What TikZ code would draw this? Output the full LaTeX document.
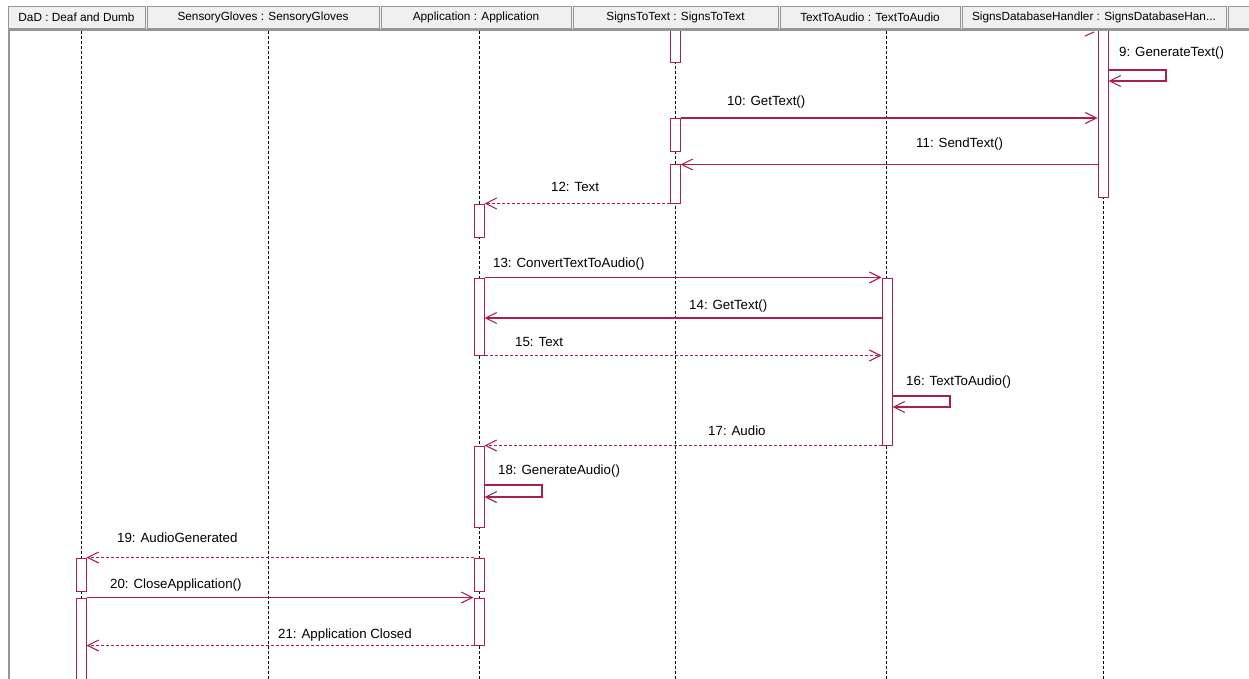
\documentclass[tikz,border=0pt]{standalone}
\usepackage{fontspec}
\setmainfont{Liberation Sans}
\usetikzlibrary{arrows.meta}
\definecolor{msgred}{RGB}{172,30,80}
\definecolor{hdrgray}{RGB}{240,240,240}
\definecolor{hdrline}{RGB}{150,150,150}
\tikzset{
  hdr/.style={draw=hdrline, fill=hdrgray, minimum height=22, inner sep=0pt, font=\fontsize{11.8}{13}\selectfont},
  act/.style={draw=msgred, fill=white, line width=1pt, minimum width=10, inner sep=0pt},
  msg/.style={msgred, line width=1.1pt, -{Straight Barb[length=11pt,width=11pt]}},
  reply/.style={msg, dash pattern=on 3pt off 2pt},
  lifeline/.style={black, dash pattern=on 3pt off 2pt, line width=0.9pt},
  lbl/.style={anchor=base west, inner sep=0pt, font=\fontsize{13.3}{15}\selectfont}
}
\begin{document}
\begin{tikzpicture}[x=1pt, y=-1pt]
  \useasboundingbox[fill=white] (0,0) rectangle (1249,679);

  % window frame
  \draw[hdrline, line width=1.5pt] (9,28) -- (9,679);

  % lifelines
  \foreach \x in {81, 268, 479, 675, 886, 1103} {
    \draw[lifeline] (\x,31) -- (\x,679);
  }

  % activation boxes
  \node[act, minimum height=35] (st1) at (675,45.5) {};
  \node[act, minimum height=33] (st2) at (675,135) {};
  \node[act, minimum height=38] (st3) at (675,184) {};
  \node[act, minimum height=169] (sdb) at (1103,112.5) {};
  \node[act, minimum height=33] (app1) at (479,220.5) {};
  \node[act, minimum height=77] (app2) at (479,316.5) {};
  \node[act, minimum height=81] (app3) at (479,486.5) {};
  \node[act, minimum height=33] (app4) at (479,574.5) {};
  \node[act, minimum height=47] (app5) at (479,621.5) {};
  \node[act, minimum height=167] (t2a) at (887,361.5) {};
  \node[act, minimum height=33] (dad1) at (81,574.5) {};
  \node[act, minimum height=90] (dad2) at (81,643) {};

  % leftover of an earlier message
  \draw[msgred, line width=1.1pt] (1085,36) -- (1094,32);

  % messages
  \draw[msg] (sdb.east |- 0,70) -- (1166,70) -- (1166,81) -- (sdb.east |- 0,81);
  \node[lbl] (m9) at (1119,57) {9: GenerateText()};

  \draw[msg] (st2.north east) -- (sdb.west |- st2.north);
  \node[lbl] (m10) at (727,106) {10: GetText()};

  \draw[msg] (sdb.west |- st3.north) -- (st3.north east);
  \node[lbl] (m11) at (916,148) {11: SendText()};

  \draw[reply] (st3.south west) -- (app1.north east);
  \node[lbl] (m12) at (551,192) {12: Text};

  \draw[msg] (app2.north east) -- (t2a.north west);
  \node[lbl] (m13) at (493,267) {13: ConvertTextToAudio()};

  \draw[msg] (t2a.west |- 0,318) -- (app2.east |- 0,318);
  \node[lbl] (m14) at (689,309) {14: GetText()};

  \draw[reply] (app2.south east) -- (t2a.west |- app2.south);
  \node[lbl] (m15) at (515,346) {15: Text};

  \draw[msg] (t2a.east |- 0,396) -- (950,396) -- (950,407) -- (t2a.east |- 0,407);
  \node[lbl] (m16) at (906,385) {16: TextToAudio()};

  \draw[reply] (t2a.south west) -- (app3.north east);
  \node[lbl] (m17) at (708,435) {17: Audio};

  \draw[msg] (app3.east |- 0,485) -- (542,485) -- (542,497) -- (app3.east |- 0,497);
  \node[lbl] (m18) at (498,474) {18: GenerateAudio()};

  \draw[reply] (app4.north west) -- (dad1.north east);
  \node[lbl] (m19) at (117,542) {19: AudioGenerated};

  \draw[msg] (dad2.north east) -- (app5.north west);
  \node[lbl] (m20) at (110,588) {20: CloseApplication()};

  \draw[reply] (app5.south west) -- (dad2.east |- app5.south);
  \node[lbl] (m21) at (278,638) {21: Application Closed};

  % header bar
  \fill[hdrgray] (8,6) rectangle (1249,29);
  \node[hdr, minimum width=137] (hdad) at (76.5,17.5) {DaD : Deaf and Dumb};
  \node[hdr, minimum width=232] (hglove) at (263,17.5) {SensoryGloves : SensoryGloves};
  \node[hdr, minimum width=190] (happ) at (476,17.5) {Application : Application};
  \node[hdr, minimum width=205] (hs2t) at (675.5,17.5) {SignsToText : SignsToText};
  \node[hdr, minimum width=180] (ht2a) at (870,17.5) {TextToAudio : TextToAudio};
  \node[hdr, minimum width=264] (hsdb) at (1094,17.5) {SignsDatabaseHandler : SignsDatabaseHan...};
  \node[hdr, minimum width=23] (hrest) at (1239.5,17.5) {};
  \draw[hdrline, line width=2pt] (8,30) -- (1249,30);
\end{tikzpicture}
\end{document}
